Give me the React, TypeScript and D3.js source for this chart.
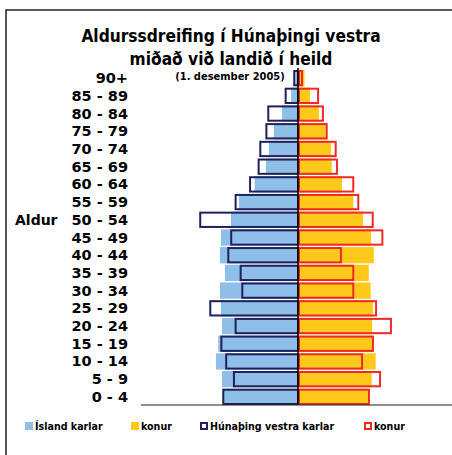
import React, { useEffect, useRef } from 'react';
import * as d3 from 'd3';

// aldurshópar, elst efst
const ageGroups = ['90+', '85 - 89', '80 - 84', '75 - 79', '70 - 74', '65 - 69', '60 - 64', '55 - 59', '50 - 54',
  '45 - 49', '40 - 44', '35 - 39', '30 - 34', '25 - 29', '20 - 24', '15 - 19', '10 - 14', '5 - 9', '0 - 4'];

// hlutfall af heildarmannfjölda (%)
const islandKarlar = [0.12, 0.33, 0.76, 1.15, 1.39, 1.53, 2.07, 2.82, 3.20, 3.68, 3.73, 3.49, 3.73, 3.68, 3.63, 3.81, 3.92, 3.63, 3.58];
const islandKonur = [0.31, 0.57, 1.00, 1.32, 1.58, 1.61, 2.10, 2.64, 3.11, 3.49, 3.62, 3.38, 3.47, 3.58, 3.54, 3.57, 3.71, 3.52, 3.34];
const hunKarlar = [0.18, 0.59, 1.42, 1.51, 1.80, 1.88, 2.29, 2.98, 4.67, 3.19, 3.33, 2.74, 2.66, 4.19, 2.98, 3.66, 3.43, 3.06, 3.57];
const hunKonur = [0.19, 0.96, 1.19, 1.37, 1.80, 1.86, 2.64, 2.88, 3.57, 4.03, 2.05, 2.64, 2.64, 3.73, 4.44, 3.58, 3.06, 3.92, 3.39];

const legendItems = [
  { label: 'Ísland karlar', fill: '#8dbfe8', stroke: 'none', x: 25 },
  { label: 'konur', fill: '#ffc91c', stroke: 'none', x: 131 },
  { label: 'Húnaþing vestra karlar', fill: 'none', stroke: '#20205a', x: 200 },
  { label: 'konur', fill: 'none', stroke: '#f02828', x: 364 }
];

const FONT = '"DejaVu Sans Condensed", "DejaVu Sans", sans-serif';
const WIDE = '"DejaVu Sans", sans-serif';

function Pyramid() {
  const ref = useRef<SVGSVGElement>(null);

  useEffect(() => {
    const svg = d3.select(ref.current);
    svg.selectAll('*').remove();

    const x = d3.scaleLinear().domain([-7.5, 7.5]).range([141, 455]);
    const y = d3.scaleBand().domain(ageGroups).range([70, 405]).paddingInner(0.08);
    const mid = x(0);

    // rammi
    svg.append('path')
      .attr('d', 'M6,455 V10 H452')
      .attr('fill', 'none')
      .attr('stroke', '#222')
      .attr('stroke-width', 1.5);

    const txt = svg.append('g')
      .attr('font-family', FONT)
      .attr('font-stretch', 'condensed')
      .attr('font-weight', 'bold')
      .attr('fill', '#000');

    txt.append('text').attr('x', 231).attr('y', 42).attr('text-anchor', 'middle')
      .attr('font-size', 17.2).text('Aldurssdreifing í Húnaþingi vestra');
    txt.append('text').attr('x', 231).attr('y', 65).attr('text-anchor', 'middle')
      .attr('font-size', 17.2).text('miðað við landið í heild');
    txt.append('text').attr('x', 230).attr('y', 80).attr('text-anchor', 'middle')
      .attr('font-size', 11).text('(1. desember 2005)');

    const bars = svg.append('g');

    bars.selectAll('rect.isk').data(ageGroups).enter().append('rect')
      .attr('x', (d, i) => x(-islandKarlar[i]))
      .attr('y', d => y(d)!)
      .attr('width', (d, i) => mid - x(-islandKarlar[i]))
      .attr('height', y.bandwidth())
      .attr('fill', '#8dbfe8');

    bars.selectAll('rect.iskv').data(ageGroups).enter().append('rect')
      .attr('x', mid)
      .attr('y', d => y(d)!)
      .attr('width', (d, i) => x(islandKonur[i]) - mid)
      .attr('height', y.bandwidth())
      .attr('fill', '#ffc91c');

    bars.selectAll('rect.hk').data(ageGroups).enter().append('rect')
      .attr('x', (d, i) => x(-hunKarlar[i]))
      .attr('y', d => y(d)! + 1)
      .attr('width', (d, i) => mid - x(-hunKarlar[i]))
      .attr('height', y.bandwidth() - 2)
      .attr('fill', 'none')
      .attr('stroke', '#20205a')
      .attr('stroke-width', 2);

    bars.selectAll('rect.hkv').data(ageGroups).enter().append('rect')
      .attr('x', mid + 1)
      .attr('y', d => y(d)! + 1)
      .attr('width', (d, i) => x(hunKonur[i]) - mid - 1)
      .attr('height', y.bandwidth() - 2)
      .attr('fill', 'none')
      .attr('stroke', '#f02828')
      .attr('stroke-width', 2);

    // miðlína og x-ás
    svg.append('line')
      .attr('x1', mid).attr('x2', mid).attr('y1', 68).attr('y2', 405)
      .attr('stroke', '#000').attr('stroke-width', 1.5);
    svg.append('line')
      .attr('x1', 141).attr('x2', 452).attr('y1', 405).attr('y2', 405)
      .attr('stroke', '#222').attr('stroke-width', 1.2);

    // aldursmerki
    txt.selectAll('text.age').data(ageGroups).enter().append('text')
      .attr('x', 128)
      .attr('y', d => y(d)! + y.bandwidth() / 2 + 5)
      .attr('text-anchor', 'end')
      .attr('font-family', WIDE)
      .attr('font-stretch', 'normal')
      .attr('font-size', 14.5)
      .text(d => d);
    txt.append('text').attr('x', 15).attr('y', y('50 - 54')! + y.bandwidth() / 2 + 5)
      .attr('font-family', WIDE)
      .attr('font-stretch', 'normal')
      .attr('font-size', 14).text('Aldur');

    // skýringar
    const leg = svg.append('g');
    legendItems.forEach(item => {
      leg.append('rect')
        .attr('x', item.stroke === 'none' ? item.x : item.x + 1)
        .attr('y', item.stroke === 'none' ? 422 : 423)
        .attr('width', item.stroke === 'none' ? 8 : 6)
        .attr('height', item.stroke === 'none' ? 8 : 6)
        .attr('fill', item.fill)
        .attr('stroke', item.stroke)
        .attr('stroke-width', 2);
      txt.append('text')
        .attr('x', item.x + 10)
        .attr('y', 430)
        .attr('font-size', 10.6)
        .text(item.label);
    });
  }, []);

  return <svg ref={ref} width={452} height={455} style={{ display: 'block' }} />;
}

export default function App() {
  return (
    <div style={{ position: 'absolute', left: 0, top: 0 }}>
      <Pyramid />
    </div>
  );
}
